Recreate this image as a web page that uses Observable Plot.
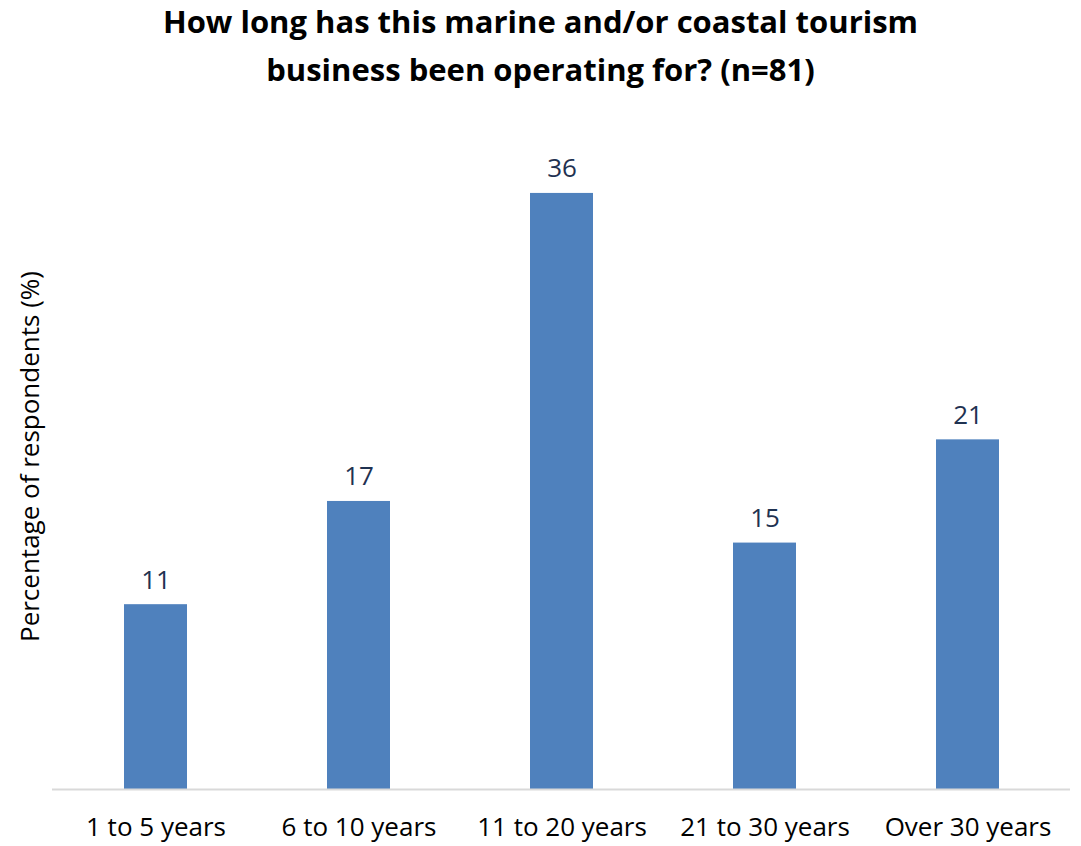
<!DOCTYPE html>
<html>
<head>
<meta charset="utf-8">
<script src="https://cdn.jsdelivr.net/npm/d3@7"></script>
<script src="https://cdn.jsdelivr.net/npm/@observablehq/plot@0.6"></script>
<style>
  html, body { margin: 0; padding: 0; background: #fff; }
  body { width: 1081px; height: 846px; overflow: hidden; font-family: "Open Sans", "Noto Sans", sans-serif; }
  #title { height: 110px; box-sizing: border-box; padding-top: 0px; margin-top: -3px; text-align: center; font-weight: bold; font-size: 31px; line-height: 48px; color: #000; }
  #chart { margin-top: 3px; }
  #chart svg { display: block; }
</style>
</head>
<body>
<div id="title">How long has this marine and/or coastal tourism<br>business been operating for? (n=81)</div>
<div id="chart"></div>
<script>
const categories = ["1 to 5 years", "6 to 10 years", "11 to 20 years", "21 to 30 years", "Over 30 years"];
const values = [11.1, 17.3, 35.8, 14.8, 21.0];
const labels = ["11", "17", "36", "15", "21"];

const data = categories.map((c, i) => ({ category: c, value: values[i], label: labels[i] }));

const chart = Plot.plot({
  width: 1081,
  height: 736,
  marginTop: 13,
  marginBottom: 57,
  marginLeft: 52,
  marginRight: 11,
  style: { fontFamily: "'Open Sans', 'Noto Sans', sans-serif", fontSize: "26px", color: "#000", background: "#fff", overflow: "visible" },
  x: { domain: categories, padding: 0 },
  y: { domain: [0, 40] },
  marks: [
    Plot.barY(data, { x: "category", y: "value", fill: "#4F81BD", insetLeft: 70, insetRight: 70 }),
    Plot.ruleY([0], { stroke: "#d9d9d9", strokeWidth: 2 }),
    Plot.text(data, { x: "category", y: "value", text: "label", lineAnchor: "bottom", dy: -16, fill: "#1F3251", fontSize: 26 }),
    Plot.axisX({ tickSize: 0, tickPadding: 28, label: null, fontSize: 26 }),
    Plot.axisY({ ticks: [], tickSize: 0, label: "Percentage of respondents (%)", labelAnchor: "center", labelArrow: "none", labelOffset: 32, fontSize: 26 })
  ]
});
document.getElementById("chart").appendChild(chart);
</script>
</body>
</html>
